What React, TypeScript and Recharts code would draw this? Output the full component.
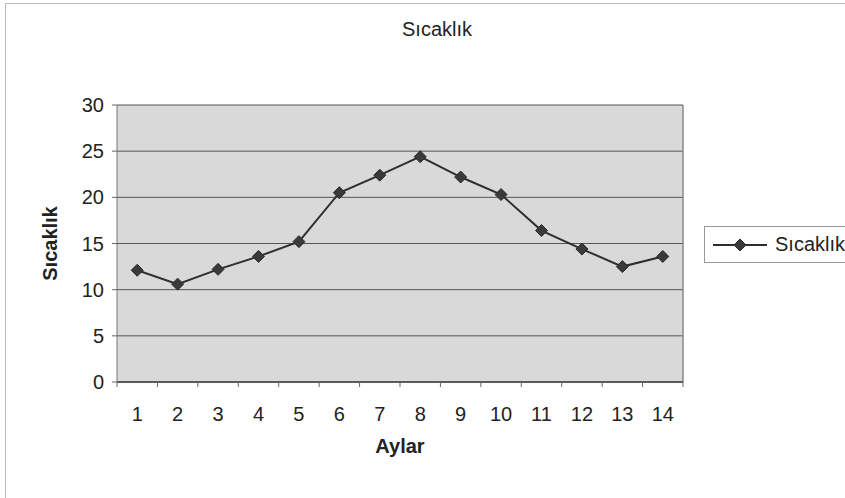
import { LineChart, Line, XAxis, YAxis, CartesianGrid, Legend, ReferenceLine } from 'recharts';

// Aylık sıcaklık değerleri
const months = [1, 2, 3, 4, 5, 6, 7, 8, 9, 10, 11, 12, 13, 14];
const temperatures = [12.1, 10.6, 12.2, 13.6, 15.2, 20.5, 22.4, 24.4, 22.2, 20.3, 16.4, 14.4, 12.5, 13.6];
const yTicks = [0, 5, 10, 15, 20, 25, 30];

const seriesName = 'Sıcaklık';
const font = '"Liberation Sans", Arial, sans-serif';
const lineColor = '#2e2e2e';

const data = months.map((m, i) => ({ ay: m, sicaklik: temperatures[i] }));

// label ticks at whole months, small tick marks between categories
const xTicks = [0.5, ...months.flatMap(m => [m, m + 0.5])];

const Diamond = ({ cx, cy, r = 6 }: { cx?: number; cy?: number; r?: number }) => {
  if (cx == null || cy == null) return null;
  return (
    <polygon
      points={`${cx},${cy - r} ${cx + r},${cy} ${cx},${cy + r} ${cx - r},${cy}`}
      fill="#3a3a3a"
      stroke="#2a2a2a"
      strokeWidth={1}
    />
  );
};

const MonthTick = (props: any) => {
  const { x, y, payload } = props;
  const v = payload.value as number;
  if (v % 1 !== 0) {
    return <line x1={x} x2={x} y1={y} y2={y + 5} stroke="#666" strokeWidth={1} />;
  }
  return (
    <text x={x} y={y + 39} textAnchor="middle" fontSize={20} fontFamily={font} fill="#222">
      {v}
    </text>
  );
};

const LegendBox = () => (
  <div
    style={{
      border: '1px solid #999',
      height: 37,
      boxSizing: 'border-box',
      display: 'flex',
      alignItems: 'center',
      fontFamily: font,
      fontSize: 20,
      color: '#222',
      background: '#fff',
    }}
  >
    <svg width={62} height={20} style={{ marginLeft: 8 }}>
      <line x1={0} x2={54} y1={10} y2={10} stroke={lineColor} strokeWidth={2} />
      <Diamond cx={27} cy={10} r={6} />
    </svg>
    <span>{seriesName}</span>
  </div>
);

export default function App() {
  return (
    <div style={{ position: 'absolute', left: 0, top: 0, width: 845, height: 498, background: '#fff', overflow: 'hidden' }}>
      <div
        style={{
          position: 'absolute',
          left: 5,
          top: 3,
          width: 860,
          height: 520,
          borderTop: '1px solid #bbb',
          borderLeft: '1px solid #bbb',
        }}
      />
      <div
        style={{
          position: 'absolute',
          left: 0,
          width: 874,
          top: 18,
          textAlign: 'center',
          fontFamily: font,
          fontSize: 20,
          color: '#222',
        }}
      >
        {seriesName}
      </div>
      <LineChart
        width={845}
        height={498}
        data={data}
        margin={{ top: 105, right: 12, bottom: 46, left: 42 }}
        style={{ position: 'absolute', left: 0, top: 0 }}
      >
        <CartesianGrid vertical={false} stroke="#555" strokeWidth={1} fill="#d9d9d9" />
        <XAxis
          dataKey="ay"
          type="number"
          domain={[0.5, 14.5]}
          ticks={xTicks}
          interval={0}
          tickLine={false}
          tickSize={0}
          tickMargin={0}
          tick={<MonthTick />}
          axisLine={{ stroke: '#444', strokeWidth: 1.5 }}
          height={70}
          label={{
            content: ({ viewBox }: any) => (
              <text
                x={viewBox.x + viewBox.width / 2}
                y={viewBox.y + 71}
                textAnchor="middle"
                fontSize={20}
                fontWeight="bold"
                fontFamily={font}
                fill="#222"
              >
                Aylar
              </text>
            ),
          }}
        />
        <YAxis
          domain={[0, 30]}
          ticks={yTicks}
          interval={0}
          width={75}
          tickSize={5}
          tickMargin={8}
          tickLine={{ stroke: '#666' }}
          axisLine={{ stroke: '#777' }}
          tick={{ fontSize: 20, fontFamily: font, fill: '#222' }}
          label={{
            content: ({ viewBox }: any) => {
              const cx = viewBox.x + 8;
              const cy = viewBox.y + viewBox.height / 2;
              return (
                <text
                  x={cx}
                  y={cy}
                  transform={`rotate(-90 ${cx} ${cy})`}
                  textAnchor="middle"
                  dominantBaseline="central"
                  fontSize={20}
                  fontWeight="bold"
                  fontFamily={font}
                  fill="#222"
                >
                  {seriesName}
                </text>
              );
            },
          }}
        />
        <ReferenceLine x={14.5} stroke="#888" strokeWidth={1.5} />
        <Legend
          layout="vertical"
          align="right"
          verticalAlign="middle"
          width={150}
          wrapperStyle={{ left: 704, top: 226, width: 150 }}
          content={() => <LegendBox />}
        />
        <Line
          type="linear"
          dataKey="sicaklik"
          name={seriesName}
          stroke={lineColor}
          strokeWidth={2}
          dot={<Diamond r={6} />}
          activeDot={false}
          isAnimationActive={false}
        />
      </LineChart>
    </div>
  );
}
